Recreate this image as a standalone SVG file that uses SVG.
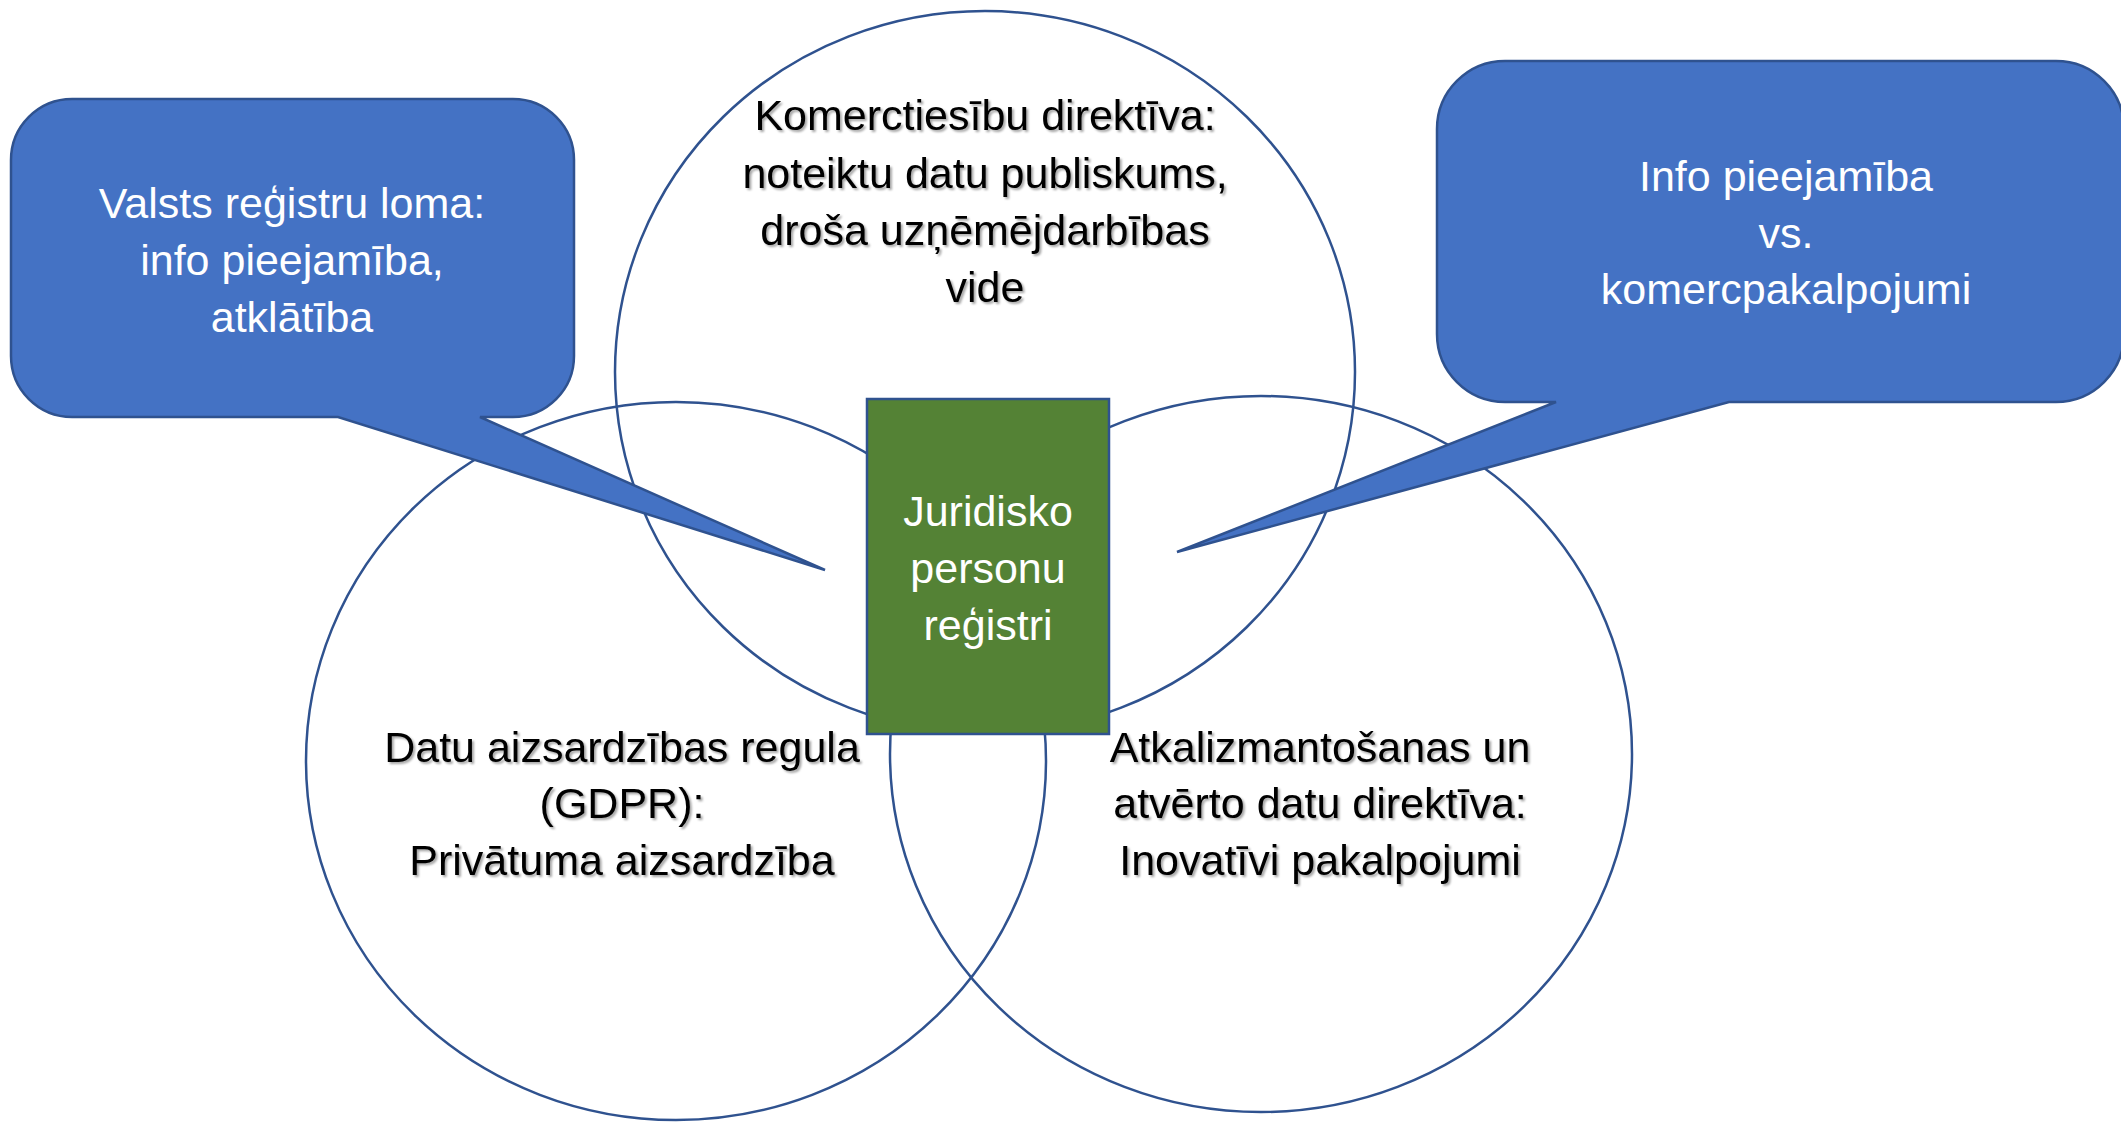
<svg xmlns="http://www.w3.org/2000/svg" width="2121" height="1123" viewBox="0 0 2121 1123">
<style>
.ring{fill:none;stroke:#2F528F;stroke-width:2.5}
.bubble{fill:#4472C4;stroke:#2F528F;stroke-width:2.5}
.box{fill:#548235;stroke:#2F528F;stroke-width:2.5}
.t{font-family:"Liberation Sans",Arial,sans-serif;font-size:43px;text-anchor:middle}
.w{fill:#FFFFFF}
.k{fill:#000000;filter:url(#sh)}
</style>
<defs>
<filter id="sh" x="-10%" y="-20%" width="120%" height="150%">
<feDropShadow dx="2" dy="2" stdDeviation="1.2" flood-color="#000" flood-opacity="0.35"/>
</filter>
</defs>
<rect width="2121" height="1123" fill="#FFFFFF"/>
<g id="circle-top">
<ellipse class="ring" cx="985" cy="372" rx="370" ry="361"/>
<text class="t k" x="985" y="130">Komerctiesību direktīva:</text>
<text class="t k" x="985" y="188">noteiktu datu publiskums,</text>
<text class="t k" x="985" y="245">droša uzņēmējdarbības</text>
<text class="t k" x="985" y="302">vide</text>
</g>
<g id="circle-left">
<ellipse class="ring" cx="676" cy="761" rx="370" ry="359"/>
<text class="t k" x="622" y="762">Datu aizsardzības regula</text>
<text class="t k" x="622" y="818">(GDPR):</text>
<text class="t k" x="622" y="875">Privātuma aizsardzība</text>
</g>
<g id="circle-right">
<ellipse class="ring" cx="1261" cy="754" rx="371" ry="358"/>
<text class="t k" x="1320" y="762">Atkalizmantošanas un</text>
<text class="t k" x="1320" y="818">atvērto datu direktīva:</text>
<text class="t k" x="1320" y="875">Inovatīvi pakalpojumi</text>
</g>
<g id="callout-left">
<path class="bubble" d="M72 99 H513 A61 61 0 0 1 574 160 V356 A61 61 0 0 1 513 417 H480 L825 570 L338 417 H72 A61 61 0 0 1 11 356 V160 A61 61 0 0 1 72 99 Z"/>
<text class="t w" x="292" y="218">Valsts reģistru loma:</text>
<text class="t w" x="292" y="275">info pieejamība,</text>
<text class="t w" x="292" y="332">atklātība</text>
</g>
<g id="callout-right">
<path class="bubble" d="M1505 61 H2056 A68 68 0 0 1 2124 129 V334 A68 68 0 0 1 2056 402 H1729 L1177 552 L1556 402 H1505 A68 68 0 0 1 1437 334 V129 A68 68 0 0 1 1505 61 Z"/>
<text class="t w" x="1786" y="191">Info pieejamība</text>
<text class="t w" x="1786" y="248">vs.</text>
<text class="t w" x="1786" y="304">komercpakalpojumi</text>
</g>
<g id="center-box">
<rect class="box" x="867" y="399" width="242" height="335"/>
<text class="t w" x="988" y="526">Juridisko</text>
<text class="t w" x="988" y="583">personu</text>
<text class="t w" x="988" y="640">reģistri</text>
</g>
<g id="connectors"></g>
</svg>
